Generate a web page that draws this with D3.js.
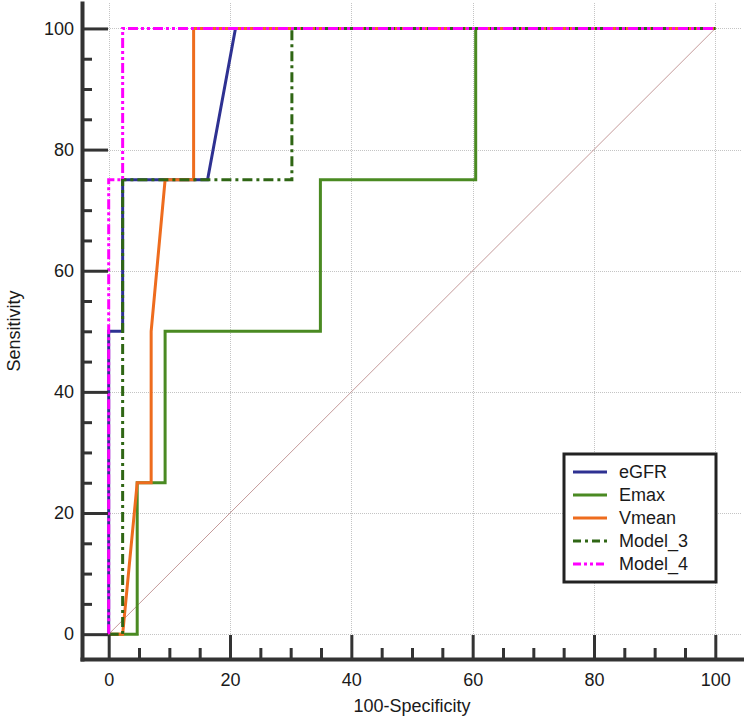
<!DOCTYPE html>
<html>
<head>
<meta charset="utf-8">
<script src="https://cdn.jsdelivr.net/npm/d3@7/dist/d3.min.js"></script>
<style>
  html, body { margin: 0; padding: 0; background: #fff; }
  svg { display: block; font-family: "Liberation Sans", Arial, sans-serif; }
</style>
</head>
<body>
<svg id="chart" width="744" height="719"></svg>
<script>
// ROC curves: x = 100-Specificity, y = Sensitivity
const seriesNames = ["eGFR", "Emax", "Vmean", "Model_3", "Model_4"]

const eGFR_fpr = [0, 0, 2.3, 2.3, 16.3, 20.9, 100]
const eGFR_tpr = [0, 50, 50, 75, 75, 100, 100]

const Emax_fpr = [0, 4.7, 4.7, 9.3, 9.3, 34.9, 34.9, 60.5, 60.5, 100]
const Emax_tpr = [0, 0, 25, 25, 50, 50, 75, 75, 100, 100]

const Vmean_fpr = [0, 2.3, 4.7, 7.0, 7.0, 9.3, 14.0, 14.0, 100]
const Vmean_tpr = [0, 0, 25, 25, 50, 75, 75, 100, 100]

const Model3_fpr = [0, 2.3, 2.3, 30.2, 30.2, 100]
const Model3_tpr = [0, 0, 75, 75, 100, 100]

const Model4_fpr = [0, 0, 2.3, 2.3, 100]
const Model4_tpr = [0, 75, 75, 100, 100]

const majorTicks = [0, 20, 40, 60, 80, 100]
const minorTicks = [5, 10, 15, 25, 30, 35, 45, 50, 55, 65, 70, 75, 85, 90, 95]

const xTitle = "100-Specificity"
const yTitle = "Sensitivity"

const styles = {
  eGFR: {color: "#2e3192", dash: null},
  Emax: {color: "#4a8a22", dash: null},
  Vmean: {color: "#ee6c1e", dash: null},
  Model_3: {color: "#2f6614", dash: "10,4,3,4"},
  Model_4: {color: "#ff00ff", dash: "10,3,3,3,3,3"},
}

const zip = (xs, ys) => xs.map((v, i) => ({x: v, y: ys[i]}))
const series = [
  {key: "eGFR", pts: zip(eGFR_fpr, eGFR_tpr)},
  {key: "Emax", pts: zip(Emax_fpr, Emax_tpr)},
  {key: "Vmean", pts: zip(Vmean_fpr, Vmean_tpr)},
  {key: "Model_3", pts: zip(Model3_fpr, Model3_tpr)},
  {key: "Model_4", pts: zip(Model4_fpr, Model4_tpr)},
]

const svg = d3.select("#chart")

const x = d3.scaleLinear().domain([-4.4, 104.4]).range([82, 742])
const y = d3.scaleLinear().domain([-4.1, 104.2]).range([659, 3])
const [x0, x1] = x.range()
const [y0, y1] = y.range()

// dotted grid
const grid = svg.append("g")
  .attr("stroke", "#c4c4c4")
  .attr("stroke-width", 1)
  .attr("stroke-dasharray", "1,1")
grid.selectAll("line.h").data(majorTicks).join("line")
  .attr("class", "h")
  .attr("x1", x0).attr("x2", x1)
  .attr("y1", (d) => Math.round(y(d)) + 0.5).attr("y2", (d) => Math.round(y(d)) + 0.5)
grid.selectAll("line.v").data(majorTicks).join("line")
  .attr("class", "v")
  .attr("y1", y1).attr("y2", y0)
  .attr("x1", (d) => Math.round(x(d)) + 0.5).attr("x2", (d) => Math.round(x(d)) + 0.5)

// reference diagonal
svg.append("line")
  .attr("x1", x(0)).attr("y1", y(0))
  .attr("x2", x(100)).attr("y2", y(100))
  .attr("stroke", "#c49a9a")
  .attr("stroke-width", 1)

const line = d3.line().x((d) => x(d.x)).y((d) => y(d.y))

svg.append("g")
  .selectAll("path")
  .data(series)
  .join("path")
  .attr("d", (d) => line(d.pts))
  .attr("fill", "none")
  .attr("stroke", (d) => styles[d.key].color)
  .attr("stroke-width", 3)
  .attr("stroke-dasharray", (d) => styles[d.key].dash)

// axes: ticks point inwards, long majors, short minors
const styleAxis = (g) => {
  g.select(".domain").attr("stroke", "#333").attr("stroke-width", 4).attr("stroke-linecap", "square")
  g.selectAll(".tick line").attr("stroke", "#333").attr("stroke-width", 3)
  g.selectAll("text").attr("font-size", 18).attr("fill", "#1a1a1a")
    .attr("font-family", "Liberation Sans, Arial, sans-serif")
}

svg.append("g")
  .attr("transform", `translate(0,${y0})`)
  .call(d3.axisBottom(x).tickValues(minorTicks).tickFormat("").tickSizeInner(-11).tickSizeOuter(0))
  .call((g) => g.select(".domain").remove())
  .call(styleAxis)

svg.append("g")
  .attr("transform", `translate(${x0},0)`)
  .call(d3.axisLeft(y).tickValues(minorTicks).tickFormat("").tickSizeInner(-10).tickSizeOuter(0))
  .call((g) => g.select(".domain").remove())
  .call(styleAxis)

svg.append("g")
  .attr("transform", `translate(0,${y0})`)
  .call(d3.axisBottom(x).tickValues(majorTicks).tickSizeInner(-24).tickSizeOuter(0).tickPadding(14))
  .call(styleAxis)

svg.append("g")
  .attr("transform", `translate(${x0},0)`)
  .call(d3.axisLeft(y).tickValues(majorTicks).tickSizeInner(-26).tickSizeOuter(0).tickPadding(8))
  .call(styleAxis)

// axis titles
svg.append("text")
  .attr("x", (x0 + x1) / 2)
  .attr("y", 712)
  .attr("text-anchor", "middle")
  .attr("font-size", 18)
  .attr("fill", "#1a1a1a")
  .text(xTitle)

svg.append("text")
  .attr("transform", `translate(20,${(y0 + y1) / 2}) rotate(-90)`)
  .attr("text-anchor", "middle")
  .attr("font-size", 18)
  .attr("fill", "#1a1a1a")
  .text(yTitle)

// legend
const lg = svg.append("g").attr("transform", "translate(564,454)")
lg.append("rect")
  .attr("width", 152).attr("height", 128)
  .attr("fill", "#fff")
  .attr("stroke", "#222")
  .attr("stroke-width", 3)

const items = lg.selectAll("g.item")
  .data(seriesNames)
  .join("g")
  .attr("class", "item")
  .attr("transform", (d, i) => `translate(0,${18 + i * 23})`)

items.append("line")
  .attr("x1", 9).attr("x2", 43)
  .attr("stroke", (d) => styles[d].color)
  .attr("stroke-width", 3)
  .attr("stroke-dasharray", (d) => (styles[d].dash ? (d === "Model_3" ? "8,4,3,4" : "8,3,3,3,3,3") : null))

items.append("text")
  .attr("x", 55)
  .attr("dy", "0.35em")
  .attr("font-size", 18)
  .attr("fill", "#1a1a1a")
  .text((d) => d)
</script>
</body>
</html>
